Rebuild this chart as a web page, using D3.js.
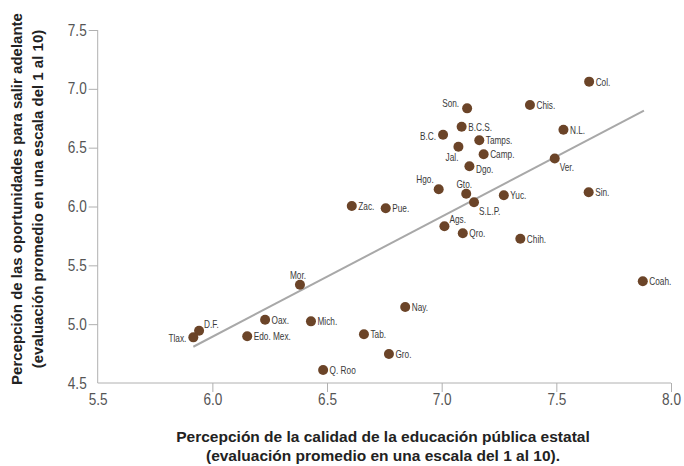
<!DOCTYPE html>
<html><head><meta charset="utf-8">
<script src="https://cdn.jsdelivr.net/npm/d3@7"></script>
<style>
html,body{margin:0;padding:0;background:#fff;}
svg text{font-family:"Liberation Sans",Arial,sans-serif;}
</style></head>
<body>
<svg id="chart" width="684" height="466"></svg>
<script>
const states = ["Col.","Son.","Chis.","B.C.S.","B.C.","Tamps.","N.L.","Jal.","Camp.","Ver.","Dgo.","Hgo.","Gto.","Yuc.","S.L.P.","Sin.","Zac.","Pue.","Ags.","Qro.","Chih.","Coah.","Mor.","Nay.","Oax.","Mich.","D.F.","Tlax.","Edo. Mex.","Tab.","Gro.","Q. Roo"];
const education = [7.643,7.111,7.385,7.087,7.006,7.164,7.531,7.073,7.183,7.493,7.121,6.987,7.107,7.271,7.141,7.641,6.608,6.756,7.012,7.092,7.343,7.877,6.382,6.841,6.230,6.430,5.942,5.917,6.152,6.661,6.770,6.483];
const opportunities = [7.061,6.834,6.863,6.678,6.610,6.563,6.653,6.508,6.444,6.408,6.342,6.146,6.109,6.095,6.036,6.121,6.004,5.985,5.832,5.772,5.726,5.364,5.335,5.146,5.038,5.024,4.944,4.888,4.897,4.914,4.746,4.610];
// label placement: r = right, l = left, a = above, al/ar/bl/br = diagonal
const labelPos = ["r","ul","r","r","l","r","r","bl","r","br","br2","al","a","r","br","r","r","r","ar","r","r","r","a","r","r","r","ar","l","r","r","r","r"];
const xTicks = [5.5,6.0,6.5,7.0,7.5,8.0];
const yTicks = [4.5,5.0,5.5,6.0,6.5,7.0,7.5];
const trendX = [5.917,7.882];
const trendY = [4.808,6.814];
const xTitle = ["Percepción de la calidad de la educación pública estatal","(evaluación promedio en una escala del 1 al 10)."];
const yTitle = ["Percepción de las oportunidades para salir adelante","(evaluación promedio en una escala del 1 al 10)"];

const svg = d3.select("#chart");
const x = d3.scaleLinear().domain([5.5,8.0]).range([97.7,671]);
const y = d3.scaleLinear().domain([4.5,7.5]).range([383,30]);

const axisColor = "#b0b0b0";
const tickColor = "#555";

// horizontally condense text (narrow typeface look)
function condense(sel, sx){
  sel.each(function(){
    const t = d3.select(this);
    const tx = +t.attr("x") || 0, ty = +t.attr("y") || 0;
    t.attr("x",0).attr("y",0).attr("transform",`translate(${tx},${ty}) scale(${sx},1)`);
  });
}

// Y axis
const gy = svg.append("g").attr("transform","translate(97.7,0)")
  .call(d3.axisLeft(y).tickValues(yTicks).tickFormat(d3.format(".1f")).tickSize(9).tickPadding(2));
gy.select(".domain").attr("stroke",axisColor).attr("d","M0,30V383");
gy.selectAll(".tick line").attr("stroke",axisColor).filter(d=>d===4.5).remove();
gy.selectAll(".tick text").attr("fill",tickColor).attr("font-size",16).attr("font-family","Liberation Sans").call(condense,0.85);

// X axis
const gx = svg.append("g").attr("transform","translate(0,383)")
  .call(d3.axisBottom(x).tickValues(xTicks).tickFormat(d3.format(".1f")).tickSize(9).tickPadding(2));
gx.select(".domain").attr("stroke",axisColor).attr("d","M97.7,0H671");
gx.selectAll(".tick line").attr("stroke",axisColor).filter(d=>d===5.5).remove();
gx.selectAll(".tick text").attr("fill",tickColor).attr("font-size",16).attr("font-family","Liberation Sans").call(condense,0.85);

// trend line
svg.append("line")
  .attr("x1",x(trendX[0])).attr("y1",y(trendY[0]))
  .attr("x2",x(trendX[1])).attr("y2",y(trendY[1]))
  .attr("stroke","#a8a8a8").attr("stroke-width",2);

const data = states.map((s,i)=>({s, ex:education[i], op:opportunities[i], p:labelPos[i]}));

svg.append("g").selectAll("circle").data(data).join("circle")
  .attr("cx",d=>x(d.ex)).attr("cy",d=>y(d.op)).attr("r",5)
  .attr("fill","#6b4428");

const off = {
  r:{dx:6.5,dy:0,a:"start"},
  l:{dx:-7,dy:1,a:"end"},
  ul:{dx:-8,dy:-5,a:"end"},
  al:{dx:-5,dy:-10,a:"end"},
  bl:{dx:0,dy:10,a:"end"},
  br:{dx:5,dy:9,a:"start"},
  br2:{dx:6.5,dy:3,a:"start"},
  a:{dx:-2,dy:-10,a:"middle"},
  ar:{dx:5,dy:-7,a:"start"}
};
svg.append("g").selectAll("text").data(data).join("text")
  .attr("x",d=>x(d.ex)+off[d.p].dx)
  .attr("y",d=>y(d.op)+off[d.p].dy + 4)
  .attr("text-anchor",d=>off[d.p].a)
  .attr("font-size",11)
  .attr("fill","#3a3a3a")
  .text(d=>d.s)
  .call(condense,0.75);

// axis titles
svg.append("g").selectAll("text").data(xTitle).join("text")
  .attr("x",383).attr("y",(d,i)=>442+i*19)
  .attr("text-anchor","middle").attr("font-weight","bold")
  .attr("font-size",15.5).attr("fill","#222").text(d=>d);

svg.append("g").attr("transform","translate(0,199) rotate(-90)")
  .selectAll("text").data(yTitle).join("text")
  .attr("x",0).attr("y",(d,i)=>21.5+i*21)
  .attr("text-anchor","middle").attr("font-weight","bold")
  .attr("font-size",15).attr("fill","#222").text(d=>d);
</script>
</body></html>
